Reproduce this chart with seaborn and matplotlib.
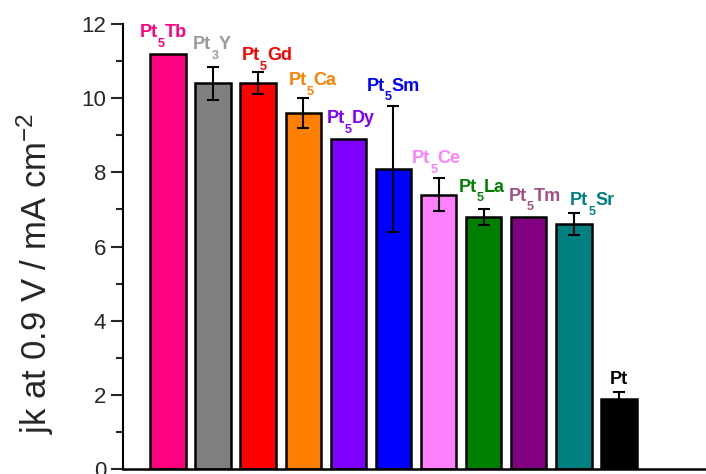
import matplotlib
matplotlib.use("Agg")
import matplotlib.pyplot as plt
import seaborn as sns
import pandas as pd

# Catalyst data: kinetic current density at 0.9 V
catalysts = ["Pt5Tb", "Pt3Y", "Pt5Gd", "Pt5Ca", "Pt5Dy", "Pt5Sm",
             "Pt5Ce", "Pt5La", "Pt5Tm", "Pt5Sr", "Pt"]
# label pieces: (prefix, subscript, suffix)
label_parts = [("Pt", "5", "Tb"), ("Pt", "3", "Y"), ("Pt", "5", "Gd"), ("Pt", "5", "Ca"),
               ("Pt", "5", "Dy"), ("Pt", "5", "Sm"), ("Pt", "5", "Ce"), ("Pt", "5", "La"),
               ("Pt", "5", "Tm"), ("Pt", "5", "Sr"), ("Pt", "", "")]
jk_values = [11.2, 10.4, 10.4, 9.6, 8.9, 8.1, 7.4, 6.8, 6.8, 6.6, 1.9]
jk_errors = [0.0, 0.45, 0.3, 0.4, 0.0, 1.7, 0.45, 0.22, 0.0, 0.3, 0.17]

bar_colors = ["#FF0080", "#808080", "#FF0000", "#FF8000", "#8000FF", "#0000FF",
              "#FF80FF", "#008000", "#800080", "#008080", "#000000"]
label_colors = ["#FF0080", "#999999", "#FF0000", "#FF8000", "#8000FF", "#0000FF",
                "#FF80FF", "#008000", "#A0508A", "#008080", "#000000"]

# Label placement (baseline height and horizontal nudge, data units)
label_y = [11.65, 11.33, 11.03, 10.36, 9.32, 10.2, 8.24, 7.48, 7.24, 7.12, 2.29]
label_dx = [-0.1, -0.03, 0.19, 0.2, 0.05, 0.0, -0.05, -0.04, 0.14, 0.41, 0.0]

sns.set_style("white")
plt.rcParams["font.family"] = ["Liberation Sans", "DejaVu Sans"]
plt.rcParams["mathtext.default"] = "regular"

df = pd.DataFrame({"catalyst": catalysts, "jk": jk_values})

fig = plt.figure(figsize=(7.06, 4.74), dpi=100)
ax = fig.add_axes([123 / 706, 5 / 474, 586 / 706, 445 / 474])

sns.barplot(data=df, x="catalyst", y="jk", hue="catalyst", palette=bar_colors,
            saturation=1, legend=False, width=0.79, edgecolor="black",
            linewidth=1.8, errorbar=None, ax=ax, zorder=2)

xs = list(range(len(catalysts)))
for x, v, e in zip(xs, jk_values, jk_errors):
    if e > 0:
        ax.errorbar(x, v, yerr=e, fmt="none", ecolor="black", elinewidth=1.5,
                    capsize=4, capthick=1.5, zorder=3)

# Bar labels with a lowered subscript, assembled from three text pieces
MAIN_SIZE, SUB_SIZE, SUB_DROP = 13.0, 9.0, -7.0
renderer = fig.canvas.get_renderer()


def text_width_pt(s, size):
    if not s:
        return 0.0
    t = fig.text(0, 0, s, fontsize=size, fontweight="bold")
    w = t.get_window_extent(renderer).width * 72.0 / fig.dpi
    t.remove()
    return w


for x, parts, c, ly, dx in zip(xs, label_parts, label_colors, label_y, label_dx):
    pieces = [(parts[0], MAIN_SIZE, 0.0), (parts[1], SUB_SIZE, SUB_DROP),
              (parts[2], MAIN_SIZE, 0.0)]
    widths = [text_width_pt(s, size) for s, size, _ in pieces]
    cursor = -sum(widths) / 2.0
    for (s, size, dy), w in zip(pieces, widths):
        if s:
            ax.annotate(s, xy=(x + dx, ly), xycoords="data",
                        xytext=(cursor, dy), textcoords="offset points",
                        ha="left", va="baseline", fontsize=size,
                        fontweight="bold", color=c, annotation_clip=False)
        cursor += w

ax.set_xlim(-1, 12)
ax.set_ylim(0, 12)
ax.set_yticks(range(0, 13, 2))
ax.set_yticks(range(1, 12, 2), minor=True)
ax.set_xticks([])
ax.set_xlabel("")
ax.set_ylabel("jk at 0.9 V / mA cm$^{-2}$", fontsize=25)
ax.yaxis.set_label_coords(-0.115, 0.44)

ax.tick_params(axis="y", which="major", direction="out", length=9, width=1.5,
               labelsize=16, pad=3, left=True)
ax.tick_params(axis="y", which="minor", direction="out", length=5, width=1.5, left=True)

for side in ["top", "right"]:
    ax.spines[side].set_visible(False)
ax.spines["left"].set_linewidth(1.5)
ax.spines["bottom"].set_linewidth(1.8)
ax.spines["left"].set_color("black")
ax.spines["bottom"].set_color("black")

fig.savefig("out.png", dpi=100)
